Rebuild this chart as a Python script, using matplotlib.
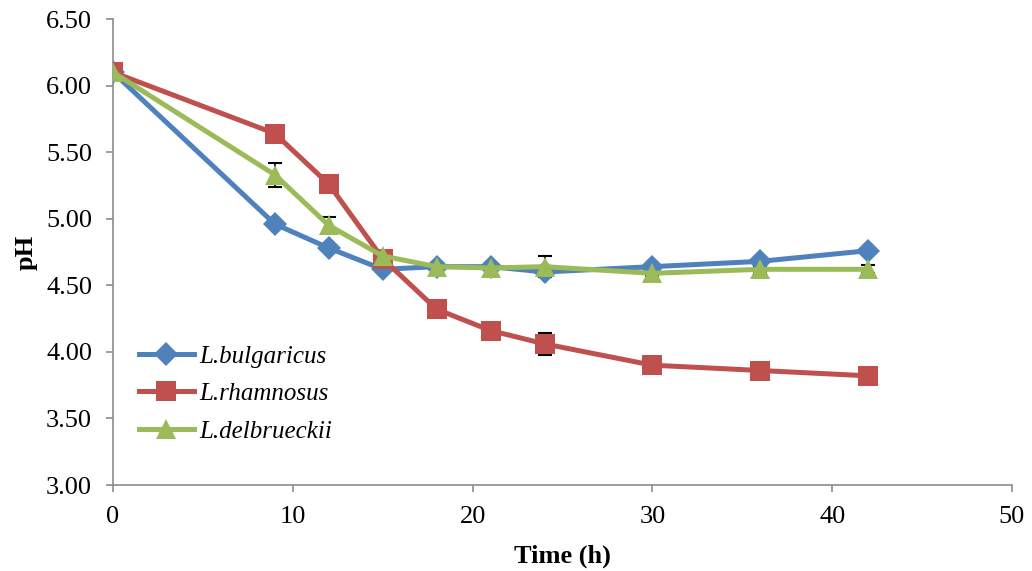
import matplotlib
matplotlib.use("Agg")
import matplotlib.pyplot as plt

# Sampling times (h)
time_h = [0, 9, 12, 15, 18, 21, 24, 30, 36, 42]

# Mean pH per strain
ph_bulgaricus = [6.10, 4.96, 4.78, 4.62, 4.64, 4.64, 4.60, 4.64, 4.68, 4.76]
ph_rhamnosus = [6.10, 5.64, 5.26, 4.70, 4.32, 4.16, 4.06, 3.90, 3.86, 3.82]
ph_delbrueckii = [6.10, 5.33, 4.95, 4.72, 4.64, 4.63, 4.64, 4.59, 4.62, 4.62]

# Standard deviations
sd_bulgaricus = [0.01, 0.02, 0.02, 0.02, 0.02, 0.02, 0.02, 0.02, 0.02, 0.02]
sd_rhamnosus = [0.01, 0.03, 0.03, 0.02, 0.02, 0.02, 0.08, 0.02, 0.02, 0.02]
sd_delbrueckii = [0.01, 0.09, 0.06, 0.02, 0.02, 0.02, 0.08, 0.02, 0.02, 0.03]

labels = ["L.bulgaricus", "L.rhamnosus", "L.delbrueckii"]
colors = ["#4F81BD", "#C0504D", "#9BBB59"]

x_ticks = [0, 10, 20, 30, 40, 50]
y_ticks = [3.00, 3.50, 4.00, 4.50, 5.00, 5.50, 6.00, 6.50]

plt.rcParams["font.family"] = ["Liberation Serif", "DejaVu Serif"]

fig = plt.figure(figsize=(10.32, 5.71), dpi=100)
ax = fig.add_axes([0.1095, 0.1506, 0.8711, 0.8161])

series = [
    (ph_bulgaricus, sd_bulgaricus, "D", 12),
    (ph_rhamnosus, sd_rhamnosus, "s", 14),
    (ph_delbrueckii, sd_delbrueckii, "^", 15),
]

for (vals, sd, mk, ms), lab, col in zip(series, labels, colors):
    ax.errorbar(time_h, vals, yerr=sd, fmt="none", ecolor="black",
                elinewidth=1.2, capsize=5, capthick=1.5, zorder=2)
    ax.plot(time_h, vals, color=col, linewidth=3.6, marker=mk,
            markersize=ms, markeredgewidth=0, label=lab, zorder=3)

ax.set_xlim(0, 50)
ax.set_ylim(3.0, 6.5)
ax.set_xticks(x_ticks)
ax.set_yticks(y_ticks)
ax.set_yticklabels([f"{v:.2f}" for v in y_ticks])

for side in ("top", "right"):
    ax.spines[side].set_visible(False)
for side in ("left", "bottom"):
    ax.spines[side].set_color("#8C8C8C")
    ax.spines[side].set_linewidth(1.2)

ax.tick_params(axis="both", direction="out", length=5, width=1.2,
               color="#8C8C8C", labelsize=19)
ax.tick_params(axis="x", pad=10)
ax.tick_params(axis="y", pad=10)

ax.set_xlabel("Time (h)", fontsize=19, fontweight="bold", labelpad=12)
ax.set_ylabel("pH", fontsize=19, fontweight="bold", labelpad=6)

leg = ax.legend(loc="lower left", bbox_to_anchor=(0.015, 0.064),
                frameon=False, handlelength=2.2, handletextpad=0.2,
                labelspacing=0.6, borderpad=0,
                prop={"style": "italic", "size": 18})

fig.savefig("out.png", dpi=100)
